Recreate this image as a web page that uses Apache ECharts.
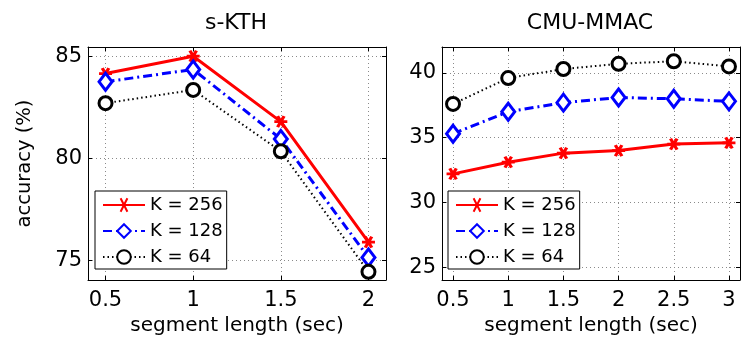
<!DOCTYPE html>
<html>
<head>
<meta charset="utf-8">
<script src="https://cdn.jsdelivr.net/npm/echarts@6/dist/echarts.min.js"></script>
<style>
html,body{margin:0;padding:0;background:#fff;}
#c{width:741px;height:344px;}
</style>
</head>
<body>
<div id="c"></div>
<script>
// ---- data ----
const seriesNames = ['K = 256', 'K = 128', 'K = 64'];
const kthX = [0.5, 1, 1.5, 2];
const kthK256 = [84.15, 85.0, 81.8, 75.9];
const kthK128 = [83.75, 84.35, 80.95, 75.15];
const kthK64 = [82.7, 83.35, 80.35, 74.45];
const cmuX = [0.5, 1, 1.5, 2, 2.5, 3];
const cmuK256 = [32.2, 33.1, 33.8, 34.0, 34.5, 34.6];
const cmuK128 = [35.3, 37.0, 37.7, 38.1, 38.0, 37.8];
const cmuK64 = [37.6, 39.6, 40.3, 40.7, 40.9, 40.5];
const kthXTicks = [0.5, 1, 1.5, 2];
const kthYTicks = [75, 80, 85];
const cmuXTicks = [0.5, 1, 1.5, 2, 2.5, 3];
const cmuYTicks = [25, 30, 35, 40];
const titles = ['s-KTH', 'CMU-MMAC'];
const xName = 'segment length (sec)';
const yName = 'accuracy (%)';

const FONT = "'DejaVu Sans', 'Liberation Sans', sans-serif";
const pairs = (xs, ys) => xs.map((x, i) => [x, ys[i]]);

const gridLine = { show: true, lineStyle: { color: '#8a8a8a', width: 1, type: [1, 3] } };
function xAxisPair(grid, min, max, ticks) {
  const base = {
    type: 'value', gridIndex: grid, min: min, max: max,
    axisLine: { show: true, onZero: false, lineStyle: { color: '#000', width: 1 } },
    axisTick: { show: true, inside: true, length: 4, customValues: ticks, lineStyle: { color: '#000' } }
  };
  return [
    Object.assign({}, base, {
      position: 'bottom',
      axisLabel: { show: true, customValues: ticks, margin: 10, fontSize: 21, color: '#000', fontFamily: FONT },
      splitLine: gridLine,
      name: xName, nameLocation: 'middle', nameGap: 30,
      nameTextStyle: { fontSize: 20, color: '#000', fontFamily: FONT }
    }),
    Object.assign({}, base, {
      position: 'top',
      axisLabel: { show: false, customValues: ticks },
      splitLine: { show: false }
    })
  ];
}
function yAxisPair(grid, min, max, ticks, withName) {
  const base = {
    type: 'value', gridIndex: grid, min: min, max: max,
    axisLine: { show: true, onZero: false, lineStyle: { color: '#000', width: 1 } },
    axisTick: { show: true, inside: true, length: 4, customValues: ticks, lineStyle: { color: '#000' } }
  };
  const left = Object.assign({}, base, {
    position: 'left',
    axisLabel: { show: true, customValues: ticks, margin: 6, fontSize: 21, color: '#000', fontFamily: FONT },
    splitLine: gridLine
  });
  if (withName) {
    Object.assign(left, {
      name: yName, nameLocation: 'middle', nameGap: 53, nameRotate: 90,
      nameTextStyle: { fontSize: 19.5, color: '#000', fontFamily: FONT }
    });
  }
  return [left, Object.assign({}, base, {
    position: 'right',
    axisLabel: { show: false, customValues: ticks },
    splitLine: { show: false }
  })];
}

const starPath = 'path://M-6,0L6,0M-3,-5.2L3,5.2M-3,5.2L3,-5.2';
function mkSeries(name, data, xi, yi, kind) {
  const s = { name: name, type: 'line', data: data, xAxisIndex: xi, yAxisIndex: yi,
    showAllSymbol: true, animation: false, silent: true };
  if (kind === 0) {
    Object.assign(s, {
      symbol: starPath, symbolSize: [13, 11],
      lineStyle: { color: '#ff0000', width: 3, type: 'solid' },
      itemStyle: { color: '#ff0000', borderColor: '#ff0000', borderWidth: 3 }, z: 2
    });
  } else if (kind === 1) {
    Object.assign(s, {
      symbol: 'diamond', symbolSize: [13, 17],
      lineStyle: { color: '#0000ff', width: 3, type: [9, 4, 2, 4] },
      itemStyle: { color: '#ffffff', borderColor: '#0000ff', borderWidth: 3 }, z: 3
    });
  } else {
    Object.assign(s, {
      symbol: 'circle', symbolSize: 13,
      lineStyle: { color: '#000000', width: 2, type: [1.5, 3] },
      itemStyle: { color: '#ffffff', borderColor: '#000000', borderWidth: 3 }, z: 4
    });
  }
  return s;
}

function mkLegend(left, top) {
  return {
    show: true, orient: 'vertical', left: left, top: top,
    data: seriesNames, selectedMode: false,
    itemWidth: 42, itemHeight: 17, itemGap: 8,
    padding: [5, 4, 3, 7],
    borderColor: '#000', borderWidth: 1, backgroundColor: '#fff',
    textStyle: { fontSize: 18, color: '#000', fontFamily: FONT },
    z: 10
  };
}

const xA = xAxisPair(0, 0.4, 2.1, kthXTicks).concat(xAxisPair(1, 0.4, 3.1, cmuXTicks));
const yA = yAxisPair(0, 74.05, 85.45, kthYTicks, true).concat(yAxisPair(1, 24, 42, cmuYTicks, false));

const option = {
  animation: false,
  backgroundColor: '#fff',
  textStyle: { fontFamily: FONT },
  title: [
    { text: titles[0], left: 236, top: 12, padding: 0, textAlign: 'center',
      textStyle: { fontSize: 22, fontWeight: 'normal', color: '#000', fontFamily: FONT } },
    { text: titles[1], left: 590, top: 12, padding: 0, textAlign: 'center',
      textStyle: { fontSize: 22, fontWeight: 'normal', color: '#000', fontFamily: FONT } }
  ],
  grid: [
    { left: 88, top: 47, width: 298, height: 233 },
    { left: 442, top: 47, width: 298, height: 233 }
  ],
  legend: [mkLegend(95, 191), mkLegend(448, 191)],
  xAxis: xA,
  yAxis: yA,
  series: [
    mkSeries(seriesNames[0], pairs(kthX, kthK256), 0, 0, 0),
    mkSeries(seriesNames[1], pairs(kthX, kthK128), 0, 0, 1),
    mkSeries(seriesNames[2], pairs(kthX, kthK64), 0, 0, 2),
    mkSeries(seriesNames[0], pairs(cmuX, cmuK256), 2, 2, 0),
    mkSeries(seriesNames[1], pairs(cmuX, cmuK128), 2, 2, 1),
    mkSeries(seriesNames[2], pairs(cmuX, cmuK64), 2, 2, 2)
  ]
};
const chart = echarts.init(document.getElementById('c'), null, { renderer: 'canvas' });
chart.setOption(option);
</script>
</body>
</html>
